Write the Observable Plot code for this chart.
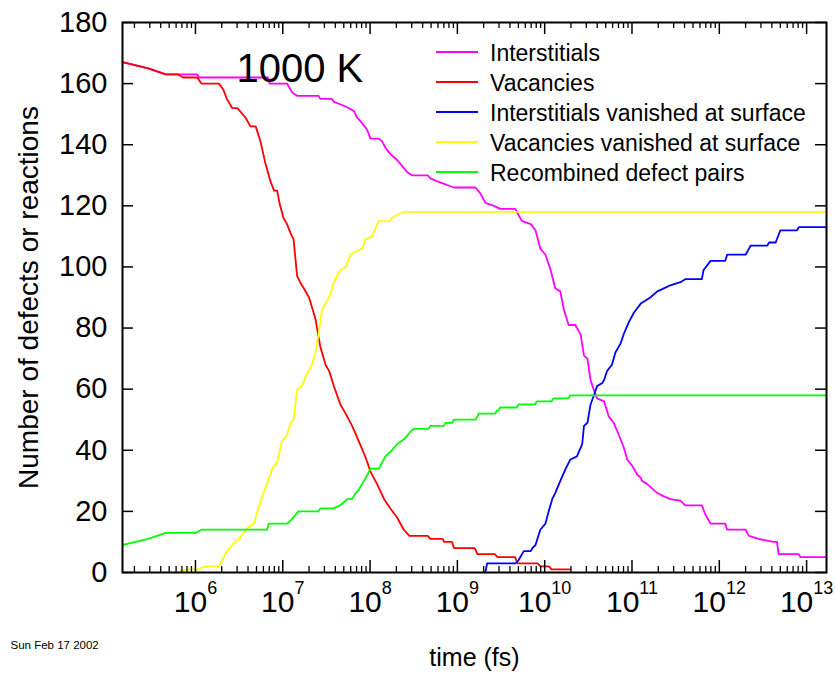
<!DOCTYPE html>
<html>
<head>
<meta charset="utf-8">
<script src="https://cdn.jsdelivr.net/npm/d3@7"></script>
<script src="https://cdn.jsdelivr.net/npm/@observablehq/plot@0.6"></script>
<style>
  body { margin: 0; background: #fff; }
  #chart { width: 835px; height: 674px; }
</style>
</head>
<body>
<div id="chart"></div>
<script>
// ---- data: [time (fs), count] ----
const seriesNames = [
  "Interstitials",
  "Vacancies",
  "Interstitials vanished at surface",
  "Vacancies vanished at surface",
  "Recombined defect pairs"
];
const seriesColors = ["#ff00ff", "#ff0000", "#0000ff", "#ffff00", "#00ff00"];

const interstitials = [
  [1.46e5,167],[2.88e5,165],[4.57e5,163],[1.05e6,163],[1.10e6,162],[6.76e6,162],[7.08e6,160],
  [1.12e7,160],[1.29e7,157],[1.46e7,156],[2.57e7,156],[2.69e7,155],[3.67e7,155],[3.85e7,154],
  [4.79e7,153],[5.69e7,152],[6.53e7,151],[7.08e7,149],[8.13e7,147],[9.23e7,145],[1.01e8,142],
  [1.26e8,142],[1.38e8,141],[1.50e8,139],[1.70e8,137],[2.04e8,135],[2.34e8,133],[2.66e8,131],
  [3.02e8,130],[4.57e8,130],[4.90e8,129],[5.89e8,128],[9.12e8,126],[1.61e9,126],[1.84e9,124],
  [2.09e9,121],[2.63e9,120],[3.09e9,119],[4.62e9,119],[5.01e9,117],[5.50e9,115],[6.92e9,114],
  [7.85e9,112],[8.91e9,106],[1.02e10,104],[1.17e10,99],[1.32e10,93],[1.51e10,92],[1.66e10,86],
  [1.88e10,81],[2.24e10,81],[2.57e10,78],[2.82e10,71],[3.09e10,70],[3.35e10,63],[3.63e10,60],
  [3.98e10,57],[4.79e10,56],[5.43e10,51],[6.17e10,49],[7.08e10,45],[8.04e10,41],[8.81e10,37],
  [1.0e11,35],[1.15e11,32],[1.26e11,31],[1.30e11,30],[1.48e11,29],[1.62e11,28],[1.95e11,26],
  [2.29e11,25],[2.75e11,24],[3.59e11,23.5],[4.07e11,22],[6.31e11,22],[6.92e11,19],[7.94e11,16],
  [1.17e12,16],[1.23e12,14],[2.00e12,14],[2.19e12,12],[2.82e12,11],[4.17e12,10],[4.57e12,10],
  [4.79e12,6],[8.13e12,6],[8.51e12,5],[1.69e13,5]
];
const vacancies = [
  [1.46e5,167],[2.88e5,165],[4.57e5,163],[6.31e5,163],[7.24e5,162],[1.05e6,162],[1.17e6,160],
  [1.86e6,160],[2.09e6,158],[2.29e6,155],[2.63e6,152],[3.02e6,152],[3.72e6,149],[4.27e6,146],
  [4.90e6,146],[5.56e6,141],[6.31e6,134],[7.24e6,128],[7.94e6,125],[8.61e6,125],[9.33e6,120],
  [1.02e7,116],[1.12e7,114],[1.23e7,111],[1.33e7,109],[1.46e7,97],[1.58e7,95],[1.74e7,93],
  [2.00e7,90],[2.37e7,83],[2.57e7,77],[2.69e7,74],[3.09e7,68],[3.39e7,66],[3.85e7,61],
  [4.57e7,55],[5.25e7,52],[6.24e7,48],[7.41e7,43],[8.51e7,39],[9.33e7,36],[1.01e8,33],
  [1.20e8,29],[1.45e8,24],[1.70e8,21],[2.04e8,18],[2.43e8,14],[2.82e8,12],[4.57e8,12],
  [4.90e8,11],[6.76e8,11],[7.08e8,10],[8.71e8,10],[9.12e8,8],[1.58e9,8],[1.70e9,6],
  [2.69e9,6],[2.88e9,5],[4.57e9,5],[4.90e9,3],[8.32e9,3],[8.91e9,2],[1.12e10,2],[1.20e10,1],
  [1.97e10,1]
];
const interstitialsSurface = [
  [2.09e9,0],[2.19e9,3],[4.62e9,3],[5.01e9,4],[5.25e9,5],[5.75e9,7],[6.92e9,7],[7.24e9,8],
  [7.85e9,9],[8.91e9,14],[1.02e10,16],[1.11e10,20],[1.22e10,24],[1.32e10,26],[1.51e10,30],
  [1.74e10,34],[1.97e10,37],[2.34e10,38],[2.69e10,42],[2.82e10,48],[3.09e10,49],[3.35e10,55],
  [3.67e10,58],[3.98e10,61],[4.57e10,62],[4.79e10,63],[5.19e10,66],[5.89e10,68],[6.46e10,72],
  [7.41e10,75],[8.04e10,78],[9.23e10,82],[1.05e11,85],[1.26e11,88],[1.43e11,89],[1.62e11,90],
  [1.95e11,92],[2.32e11,93],[2.75e11,94],[3.59e11,95],[4.07e11,96],[6.31e11,96],[6.61e11,99],
  [7.94e11,102],[1.17e12,102],[1.23e12,104],[2.00e12,104],[2.19e12,106],[2.29e12,107],
  [3.55e12,107],[3.72e12,108],[4.42e12,108],[5.01e12,112],[7.76e12,112],[8.13e12,113],[1.69e13,113]
];
const vacanciesSurface = [
  [6.03e5,0],[7.94e5,1],[1.10e6,1],[1.23e6,2],[1.86e6,2],[2.02e6,4],[2.29e6,7],[2.63e6,9],
  [2.88e6,10],[3.16e6,11],[3.59e6,13],[4.07e6,15],[4.68e6,16],[5.13e6,20],[5.82e6,25],
  [6.61e6,29],[7.59e6,34],[8.61e6,36],[9.77e6,43],[1.12e7,45],[1.23e7,49],[1.33e7,50],
  [1.46e7,60],[1.66e7,61],[1.82e7,64],[2.16e7,68],[2.37e7,72],[2.57e7,78],[2.82e7,86],
  [3.24e7,89],[3.51e7,91],[3.85e7,95],[4.57e7,99],[5.25e7,100],[5.96e7,104],[6.76e7,105],
  [8.13e7,106],[8.81e7,109],[1.05e8,110],[1.26e8,115],[1.70e8,115],[1.78e8,116],[2.04e8,117],
  [2.43e8,118],[1.69e13,118]
];
const recombined = [
  [1.46e5,9],[2.88e5,11],[4.57e5,13],[1.02e6,13],[1.17e6,14],[6.61e6,14],[6.92e6,16],[1.12e7,16],
  [1.23e7,17],[1.51e7,20],[2.57e7,20],[2.69e7,21],[3.80e7,21],[4.57e7,22],[5.01e7,23],[5.50e7,24],
  [6.24e7,24],[6.84e7,26],[7.41e7,27],[8.13e7,29],[9.33e7,32],[1.01e8,34],[1.26e8,34],[1.50e8,38],
  [1.78e8,40],[2.04e8,42],[2.54e8,44],[2.88e8,46],[3.16e8,47],[4.68e8,47],[4.90e8,48],[7.00e8,48],
  [7.33e8,49],[8.71e8,49],[9.12e8,50],[1.62e9,50],[1.76e9,52],[2.72e9,52],[2.82e9,53],[2.95e9,53],
  [3.09e9,54],[4.79e9,54],[5.01e9,55],[7.76e9,55],[8.13e9,56],[1.20e10,56],[1.26e10,57],
  [1.86e10,57],[1.97e10,58],[1.69e13,58]
];

const yTicks = [0, 20, 40, 60, 80, 100, 120, 140, 160, 180];
const xMajorTicks = [1e6, 1e7, 1e8, 1e9, 1e10, 1e11, 1e12, 1e13];
const xDomain = [1.46e5, 1.69e13];
const titleText = "1000 K";
const xLabel = "time (fs)";
const yLabel = "Number of defects or reactions";
const dateText = "Sun Feb 17 2002";

// ---- build table ----
const allSeries = [interstitials, vacancies, interstitialsSurface, vacanciesSurface, recombined];
const table = allSeries.flatMap((s, i) => s.map(([t, n]) => ({t, n, name: seriesNames[i]})));

const xMinorTicks = [];
for (let k = 5; k <= 13; k++) for (let m = 2; m <= 9; m++) {
  const v = m * Math.pow(10, k);
  if (v > xDomain[0] && v < xDomain[1]) xMinorTicks.push(v);
}

// ---- layout ----
const W = 835, H = 674, mL = 122, mR = 9, mT = 22, mB = 102;
const fw = W - mL - mR, fh = H - mT - mB;
const font = "'Liberation Sans', Arial, Helvetica, sans-serif";

function legendMark(index, scales, values, dims) {
  const g = d3.create("svg:g");
  seriesNames.forEach((name, i) => {
    const y = 52 + i * 30;
    g.append("line")
      .attr("x1", 436).attr("x2", 478).attr("y1", y).attr("y2", y)
      .attr("stroke", scales.color(name)).attr("stroke-width", 1.8);
    g.append("text")
      .attr("x", 490).attr("y", y).attr("dy", "0.38em")
      .attr("text-anchor", "start")
      .attr("font-size", 23).attr("fill", "black")
      .text(name);
  });
  return g.node();
}

const chart = Plot.plot({
  width: W, height: H,
  marginLeft: mL, marginRight: mR, marginTop: mT, marginBottom: mB,
  x: {type: "log", domain: xDomain},
  y: {domain: [0, 180]},
  color: {domain: seriesNames, range: seriesColors},
  style: {fontFamily: font, background: "white", color: "black", overflow: "visible"},
  marks: [
    Plot.line(table, {x: "t", y: "n", z: "name", stroke: "name", strokeWidth: 1.8}),
    // inward ticks
    Plot.tickY(yTicks, {y: d => d, insetRight: fw - 11, stroke: "black", strokeWidth: 1.5}),
    Plot.tickY(yTicks, {y: d => d, insetLeft: fw - 11, stroke: "black", strokeWidth: 1.5}),
    Plot.tickX(xMajorTicks, {x: d => d, insetTop: fh - 12, stroke: "black", strokeWidth: 1.5}),
    Plot.tickX(xMajorTicks, {x: d => d, insetBottom: fh - 12, stroke: "black", strokeWidth: 1.5}),
    Plot.tickX(xMinorTicks, {x: d => d, insetTop: fh - 6, stroke: "black", strokeWidth: 1.3}),
    Plot.tickX(xMinorTicks, {x: d => d, insetBottom: fh - 6, stroke: "black", strokeWidth: 1.3}),
    Plot.frame({stroke: "black", strokeWidth: 2}),
    Plot.axisY({ticks: yTicks, tickSize: 0, tickPadding: 15, fontSize: 29, label: null}),
    Plot.axisX({ticks: xMajorTicks, tickSize: 0, tickPadding: 18, fontSize: 30, label: null,
      tickFormat: d => `10^${Math.round(Math.log10(d))}`}),
    Plot.text([titleText], {frameAnchor: "top-left", dx: 114, dy: 47, textAnchor: "start", lineAnchor: "middle", fontSize: 40}),
    Plot.text([yLabel], {frameAnchor: "left", dx: -93, rotate: -90, textAnchor: "middle", lineAnchor: "middle", fontSize: 28}),
    Plot.text([xLabel], {frameAnchor: "bottom", dy: 85, textAnchor: "middle", lineAnchor: "middle", fontSize: 25}),
    Plot.text([dateText], {frameAnchor: "bottom-left", dx: -112, dy: 73, textAnchor: "start", lineAnchor: "middle", fontSize: 11.5}),
    legendMark
  ]
});

// superscript exponents on the x tick labels
d3.select(chart).selectAll("text").each(function () {
  const m = this.textContent.match(/^10\^(\d+)$/);
  if (m) {
    this.textContent = "10";
    d3.select(this).append("tspan").attr("dy", -18).attr("font-size", 18).text(m[1]);
  }
});

document.getElementById("chart").appendChild(chart);
</script>
</body>
</html>
